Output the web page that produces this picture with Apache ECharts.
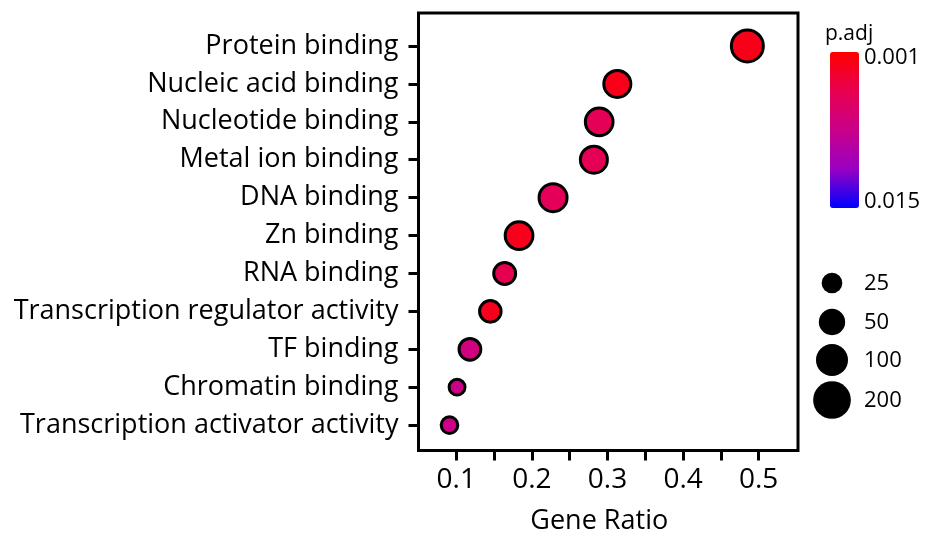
<!DOCTYPE html>
<html><head><meta charset="utf-8">
<script src="https://cdn.jsdelivr.net/npm/echarts@6/dist/echarts.min.js"></script>
<style>html,body{margin:0;padding:0;background:#fff}#c{width:929px;height:544px}</style>
</head><body><div id="c"></div>
<script>
const categories = ['Transcription activator activity','Chromatin binding','TF binding','Transcription regulator activity','RNA binding','Zn binding','DNA binding','Metal ion binding','Nucleotide binding','Nucleic acid binding','Protein binding'];
const geneRatio = [0.091,0.101,0.118,0.145,0.164,0.183,0.228,0.282,0.289,0.313,0.485];
const pAdj      = [0.0078,0.0078,0.0073,0.0022,0.0045,0.0022,0.005,0.0048,0.0048,0.002,0.002];
const counts    = [22,20,41,40,42,85,88,78,85,78,144];
const xTicks  = [0.1,0.15,0.2,0.25,0.3,0.35,0.4,0.45,0.5];
const xLabels = [0.1,0.2,0.3,0.4,0.5];
const sizeBreaks = [25,50,100,200];
const pRange = [0.001, 0.015];

const FONT = 'Open Sans';
const BORDER = 3;
function diam(c){ return 20.7 + 8.18*Math.log(c/25); }

const data = categories.map((c,i)=>[geneRatio[i], i, pAdj[i], counts[i]]);
const yIdx = categories.map((c,i)=>i);

const chart = echarts.init(document.getElementById('c'), null, {renderer:'canvas'});

function txt(x, y, s, size){
  return {type:'text', x:x, y:y, style:{text:s, fontSize:size, fontFamily:FONT, fill:'#000', verticalAlign:'middle', textVerticalAlign:'middle'}};
}
const graphics = [
  txt(825, 34, 'p.adj', 21),
  txt(864, 58, pRange[0].toFixed(3), 22),
  txt(864, 202, pRange[1].toFixed(3), 22)
];
const legendY = [283,322,360,400];
sizeBreaks.forEach((b,i)=>{
  graphics.push({type:'circle', shape:{cx:832, cy:legendY[i], r:diam(b)/2}, style:{fill:'#000'}});
  graphics.push(txt(864, legendY[i]+1, String(b), 22));
});

chart.setOption({
  animation:false,
  textStyle:{fontFamily:FONT},
  grid:{left:418.5, right:131, top:13, bottom:93.5, show:true, borderColor:'#000', borderWidth:BORDER, backgroundColor:'transparent'},
  xAxis:{
    type:'value', min:0.05, max:0.552,
    axisLine:{show:false, onZero:false},
    splitLine:{show:false},
    axisTick:{show:true, inside:false, length:10, lineStyle:{color:'#000', width:3}, customValues:xTicks},
    axisLabel:{customValues:xLabels, fontSize:28, color:'#000', margin:16, fontFamily:FONT, formatter:v=>String(Math.round(v*10)/10)},
    name:'Gene Ratio', nameLocation:'middle', nameGap:57,
    nameTextStyle:{fontSize:27, color:'#000', fontFamily:FONT, padding:[0,18,0,0]}
  },
  yAxis:{
    type:'value', min:-0.67, max:10.87,
    axisLine:{show:false, onZero:false},
    splitLine:{show:false},
    axisTick:{show:true, inside:false, length:10, lineStyle:{color:'#000', width:3}, customValues:yIdx},
    axisLabel:{customValues:yIdx, fontSize:27, color:'#000', margin:20, fontFamily:FONT, formatter:v=>categories[Math.round(v)] || ''}
  },
  visualMap:{
    type:'continuous', min:pRange[0], max:pRange[1], dimension:2, seriesIndex:0,
    inverse:true, calculable:false, text:null, showLabel:false,
    left:825, top:47, itemWidth:29, itemHeight:156, padding:5,
    inRange:{color:['#ff0000','#e80050','#ca0089','#9a00c3','#0000ff']}
  },
  graphic:graphics,
  series:[{
    type:'scatter', data:data,
    symbol:'circle',
    symbolSize:(v)=>diam(v[3]) - BORDER,
    itemStyle:{borderColor:'#000', borderWidth:BORDER, opacity:1}
  }]
});
</script></body></html>
